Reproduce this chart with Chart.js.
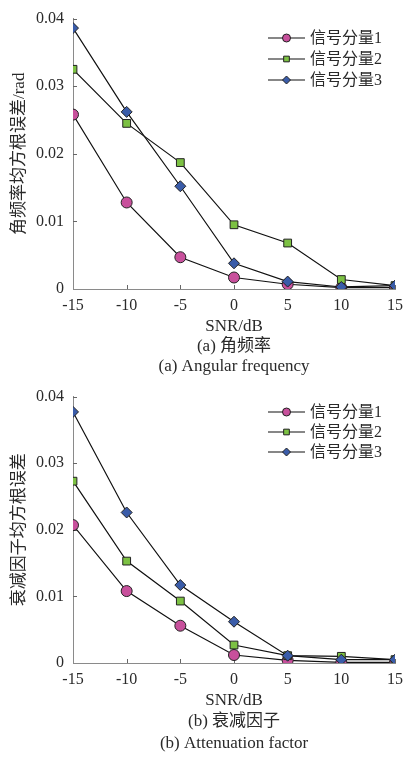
<!DOCTYPE html>
<html>
<head>
<meta charset="utf-8">
<script src="https://cdn.jsdelivr.net/npm/chart.js@4/dist/chart.umd.min.js"></script>
<style>
    html, body { margin: 0; padding: 0; background: #fff; }
    .box { position: relative; width: 410px; }
    #box1 { height: 378px; }
    #box2 { height: 379px; }
</style>
</head>
<body>
<div class="box" id="box1"><canvas id="chartAngular"></canvas></div>
<div class="box" id="box2"><canvas id="chartAtten"></canvas></div>
<script>
// SNR (dB) on the x axis
const snr = [-15, -10, -5, 0, 5, 10, 15];
const seriesNames = ['信号分量1', '信号分量2', '信号分量3'];

// (a) angular frequency RMSE / rad
const freqComp1 = [0.0258, 0.0128, 0.0047, 0.0017, 0.0007, 0.0002, 0.0002];
const freqComp2 = [0.0325, 0.0245, 0.0187, 0.0095, 0.0068, 0.0014, 0.0005];
const freqComp3 = [0.0386, 0.0262, 0.0152, 0.0038, 0.0011, 0.0003, 0.0005];

// (b) attenuation factor RMSE
const attenComp1 = [0.0207, 0.0108, 0.0056, 0.0012, 0.0004, 0.0001, 0.0001];
const attenComp2 = [0.0273, 0.0153, 0.0093, 0.0027, 0.0011, 0.0010, 0.0005];
const attenComp3 = [0.0377, 0.0226, 0.0117, 0.0062, 0.0011, 0.0005, 0.0005];

const xTicks = [-15, -10, -5, 0, 5, 10, 15];
const yTicks = [0, 0.01, 0.02, 0.03, 0.04];
const yTickLabels = ['0', '0.01', '0.02', '0.03', '0.04'];

const SERIF = "'Liberation Serif', 'Noto Sans CJK SC', serif";
const TEXT = '#2a2a2a';

const markers = [
    { pointStyle: 'circle', color: '#c8509c' },
    { pointStyle: 'rect', color: '#7cc143' },
    { pointStyle: 'rectRot', color: '#3a5ca9' },
];

// small inward tick marks like the original figure
const tickMarks = {
    id: 'tickMarks',
    beforeDatasetsDraw(chart) {
        const { ctx, chartArea, scales } = chart;
        ctx.save();
        ctx.strokeStyle = '#666';
        ctx.lineWidth = 1;
        ctx.beginPath();
        xTicks.forEach((v) => {
            const px = Math.round(scales.x.getPixelForValue(v)) + 0.5;
            if (Math.abs(px - chartArea.left) < 2) return;
            ctx.moveTo(px, chartArea.bottom);
            ctx.lineTo(px, chartArea.bottom - 4);
        });
        yTicks.forEach((v) => {
            const py = Math.round(scales.y.getPixelForValue(v)) + 0.5;
            if (Math.abs(py - chartArea.bottom) < 2) return;
            ctx.moveTo(chartArea.left, py);
            ctx.lineTo(chartArea.left + 4, py);
        });
        ctx.stroke();
        ctx.restore();
    },
};

// legend drawn as line + marker + label
const lineLegend = {
    id: 'lineLegend',
    afterDraw(chart, args, opts) {
        const { ctx } = chart;
        ctx.save();
        chart.data.datasets.forEach((ds, i) => {
            const y = opts.top + i * opts.gap;
            ctx.strokeStyle = '#111';
            ctx.lineWidth = 1.2;
            ctx.beginPath();
            ctx.moveTo(opts.x1, y);
            ctx.lineTo(opts.x2, y);
            ctx.stroke();
            ctx.fillStyle = ds.pointBackgroundColor;
            ctx.strokeStyle = '#222';
            ctx.lineWidth = 1;
            Chart.helpers.drawPoint(ctx, {
                pointStyle: ds.pointStyle, radius: 4, rotation: 0, borderWidth: 1,
            }, (opts.x1 + opts.x2) / 2, y);
            ctx.fillStyle = TEXT;
            ctx.font = '16px ' + SERIF;
            ctx.textBaseline = 'middle';
            ctx.textAlign = 'left';
            ctx.fillText(ds.label, opts.textX, y + 1);
        });
        ctx.restore();
    },
};

const buildChart = (canvasId, cfg) => new Chart(document.getElementById(canvasId), {
    type: 'line',
    data: {
        datasets: cfg.series.map((vals, i) => ({
            label: seriesNames[i],
            data: vals.map((v, j) => ({ x: snr[j], y: v })),
            borderColor: '#111',
            borderWidth: 1.2,
            pointStyle: markers[i].pointStyle,
            pointBackgroundColor: markers[i].color,
            pointBorderColor: '#222',
            pointBorderWidth: 1,
            pointRadius: 5.5,
            tension: 0,
            order: 3 - i,
        })),
    },
    options: {
        responsive: true,
        maintainAspectRatio: false,
        animation: false,
        layout: { padding: cfg.padding },
        plugins: {
            legend: { display: false },
            tooltip: { enabled: false },
            lineLegend: cfg.legend,
        },
        scales: {
            x: {
                type: 'linear',
                min: -15,
                max: 15,
                afterBuildTicks: (s) => { s.ticks = xTicks.map((v) => ({ value: v })); },
                afterFit: (s) => { s.height = cfg.xHeight; },
                grid: { display: false, drawTicks: false },
                border: { display: true, color: '#8a8a8a', width: 1 },
                ticks: {
                    autoSkip: false,
                    maxRotation: 0,
                    padding: 7,
                    color: TEXT,
                    font: { family: SERIF, size: 16 },
                    callback: (v) => String(v),
                },
                title: {
                    display: true,
                    text: cfg.xTitle,
                    color: TEXT,
                    font: { family: SERIF, size: 17, lineHeight: cfg.titleLine / 17 },
                    padding: { top: 2, bottom: cfg.titleBottom },
                },
            },
            y: {
                type: 'linear',
                min: 0,
                max: 0.04,
                afterBuildTicks: (s) => { s.ticks = yTicks.map((v) => ({ value: v })); },
                afterFit: (s) => { s.width = 73; },
                grid: { display: false, drawTicks: false },
                border: { display: true, color: '#8a8a8a', width: 1 },
                ticks: {
                    padding: 9,
                    color: TEXT,
                    font: { family: SERIF, size: 16 },
                    callback: (v, i) => yTickLabels[i],
                },
                title: {
                    display: true,
                    text: cfg.yTitle,
                    color: TEXT,
                    font: { family: SERIF, size: 17 },
                    padding: { top: 9, bottom: 0 },
                },
            },
        },
    },
    plugins: [tickMarks, lineLegend],
});

buildChart('chartAngular', {
    series: [freqComp1, freqComp2, freqComp3],
    padding: { top: 15, right: 10, bottom: 0, left: 0 },
    xHeight: 89,
    titleLine: 20,
    titleBottom: 1,
    xTitle: ['SNR/dB', '(a) 角频率', '(a) Angular frequency'],
    yTitle: '角频率均方根误差/rad',
    legend: { x1: 268, x2: 305, textX: 310, top: 38, gap: 21 },
});

buildChart('chartAtten', {
    series: [attenComp1, attenComp2, attenComp3],
    padding: { top: 13, right: 8, bottom: 0, left: 0 },
    xHeight: 94,
    titleLine: 21.5,
    titleBottom: 3,
    xTitle: ['SNR/dB', '(b) 衰减因子', '(b) Attenuation factor'],
    yTitle: '衰减因子均方根误差',
    legend: { x1: 268, x2: 305, textX: 310, top: 34, gap: 20 },
});
</script>
</body>
</html>
